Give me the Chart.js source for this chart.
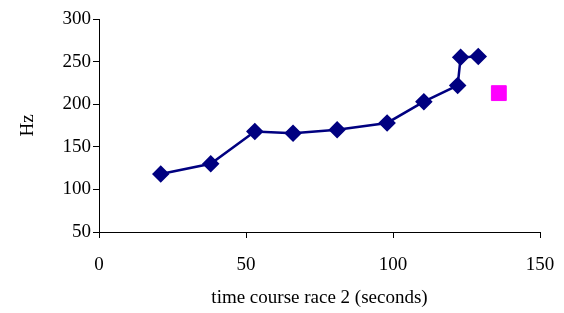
<!DOCTYPE html>
<html>
<head>
<meta charset="utf-8">
<script src="https://cdn.jsdelivr.net/npm/chart.js@4"></script>
<style>
  html, body { margin: 0; padding: 0; background: #fff; }
  #wrap { width: 564px; height: 313px; position: relative; }
</style>
</head>
<body>
<div id="wrap"><canvas id="chart"></canvas></div>
<script>
// race 2 data
const raceTimes = [21, 38, 53, 66, 81, 98, 110.5, 122, 123, 129];
const raceHz = [118, 130, 168, 166, 170, 178, 203, 222, 255, 256];
const extraTimes = [136];
const extraHz = [213];

const xTicks = [0, 50, 100, 150];
const yTicks = [50, 100, 150, 200, 250, 300];

function pairs(xs, ys) {
  return xs.map((x, i) => ({ x: x, y: ys[i] }));
}

const font = { family: 'Liberation Serif', size: 19 };

new Chart(document.getElementById('chart').getContext('2d'), {
  type: 'scatter',
  data: {
    datasets: [
      {
        data: pairs(raceTimes, raceHz),
        showLine: true,
        borderColor: '#000080',
        backgroundColor: '#000080',
        borderWidth: 2.5,
        pointStyle: 'rectRot',
        pointRadius: 7,
        pointHoverRadius: 7,
      },
      {
        data: pairs(extraTimes, extraHz),
        borderColor: '#ff00ff',
        backgroundColor: '#ff00ff',
        pointStyle: 'rect',
        pointRadius: 10.5,
        pointHoverRadius: 10.5,
      }
    ]
  },
  options: {
    responsive: true,
    maintainAspectRatio: false,
    animation: false,
    layout: { padding: { top: 19, right: 24, left: 0, bottom: 0 } },
    plugins: { legend: { display: false }, tooltip: { enabled: false } },
    scales: {
      x: {
        min: 0, max: 150,
        afterBuildTicks: (axis) => { axis.ticks = xTicks.map(v => ({ value: v })); },
        afterFit: (axis) => { axis.height = 81; axis.paddingRight = 0; axis.paddingLeft = 0; },
        grid: { drawOnChartArea: false, color: '#000', tickLength: 6 },
        border: { color: '#000', width: 1 },
        ticks: { color: '#000', font: font, padding: 16, maxRotation: 0 },
        title: { display: true, text: 'time course race 2 (seconds)', color: '#000', font: font, padding: { top: 6 } }
      },
      y: {
        min: 50, max: 300,
        afterBuildTicks: (axis) => { axis.ticks = yTicks.map(v => ({ value: v })); },
        afterFit: (axis) => { axis.width = 99; axis.paddingTop = 0; axis.paddingBottom = 0; },
        grid: { drawOnChartArea: false, color: '#000', tickLength: 6 },
        border: { color: '#000', width: 1 },
        ticks: { color: '#000', font: font, padding: 2 },
        title: { display: true, text: 'Hz', color: '#000', font: font, padding: { top: 17, bottom: 0 } }
      }
    }
  }
});
</script>
</body>
</html>
